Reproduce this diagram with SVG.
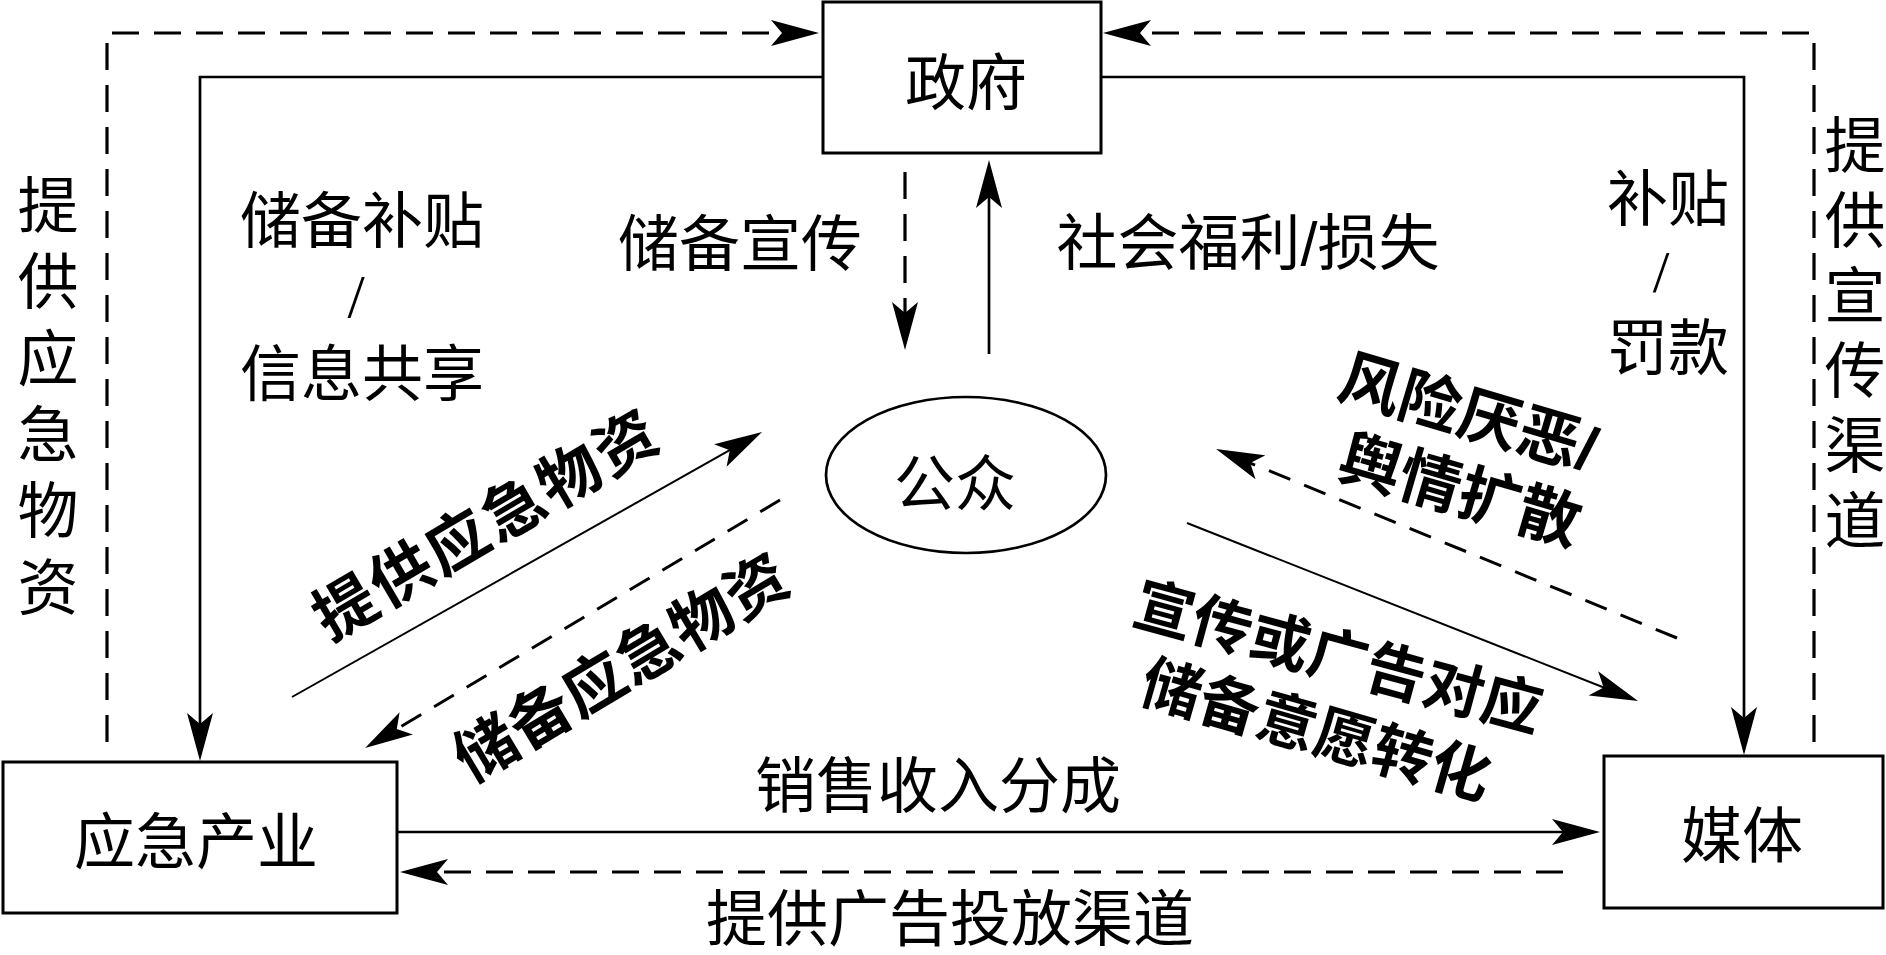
<svg xmlns="http://www.w3.org/2000/svg" width="1886" height="955" viewBox="0 0 1886 955">
<style>
.box{fill:#fff;stroke:#000;stroke-width:3}
.t{font-family:"Liberation Sans","Noto Sans CJK SC",sans-serif;font-size:61px;fill:#000;text-anchor:middle;dominant-baseline:central}
.b{font-weight:700;font-size:62px}
.sl{font-family:"Liberation Serif","Noto Sans CJK SC",serif;font-size:62px}
.s{fill:none;stroke:#000;stroke-width:2.7}
.sd{fill:none;stroke:#000;stroke-width:2}
.d{fill:none;stroke:#000;stroke-width:3.2;stroke-dasharray:27 15}
.dd{fill:none;stroke:#000;stroke-width:3;stroke-dasharray:23 15}
</style>
<defs>
<marker id="ah" viewBox="0 0 48 26" refX="18" refY="13" markerWidth="48" markerHeight="26" markerUnits="userSpaceOnUse" orient="auto">
<path d="M48,13 L0,0 L11,13 L0,26 Z" fill="#000"/>
</marker>
</defs>
<rect width="1886" height="955" fill="#fff"/>
<g id="connectors">
<path class="d" d="M107,742 V33 H789" marker-end="url(#ah)"/>
<path class="d" d="M1814,742 V33 H1133" marker-end="url(#ah)"/>
<path class="s" d="M823,77 H200 V731" marker-end="url(#ah)"/>
<path class="s" d="M1101,77 H1744 V725" marker-end="url(#ah)"/>
<path class="d" d="M905,172 V320" marker-end="url(#ah)"/>
<path class="s" d="M989,354 V190" marker-end="url(#ah)"/>
<path class="sd" d="M292,697 L735.9,446.7" marker-end="url(#ah)"/>
<path class="dd" d="M780,500 L390.8,732.6" marker-end="url(#ah)"/>
<path class="dd" d="M1677,638 L1243.8,460.4" marker-end="url(#ah)"/>
<path class="sd" d="M1187,523 L1610.1,690" marker-end="url(#ah)"/>
<path class="s" d="M397,832 H1570" marker-end="url(#ah)"/>
<path class="d" d="M1563,872 H430" marker-end="url(#ah)"/>
</g>
<g id="gov">
<rect class="box" x="823" y="2" width="278" height="151"/>
<text class="t" x="966" y="84">政府</text>
</g>
<g id="public">
<ellipse cx="966" cy="475" rx="140" ry="78" fill="#fff" stroke="#000" stroke-width="2.7"/>
<text class="t" x="955" y="485">公众</text>
</g>
<g id="industry">
<rect class="box" x="3" y="762" width="394" height="151"/>
<text class="t" x="196" y="843">应急产业</text>
</g>
<g id="media">
<rect class="box" x="1604" y="756" width="279" height="152"/>
<text class="t" x="1742" y="837">媒体</text>
</g>
<g id="labels">
<text class="t" x="362" y="222">储备补贴</text>
<text class="t sl" x="356" y="296">/</text>
<text class="t" x="362" y="375">信息共享</text>
<text class="t" x="740" y="245">储备宣传</text>
<text class="t" x="1248" y="244">社会福利/损失</text>
<text class="t" x="1668" y="200">补贴</text>
<text class="t sl" x="1661" y="272" style="font-size:60px">/</text>
<text class="t" x="1668" y="349">罚款</text>
<text class="t" x="938" y="787">销售收入分成</text>
<text class="t" x="950" y="920">提供广告投放渠道</text>
<text class="t" x="48" y="207">提</text>
<text class="t" x="48" y="283">供</text>
<text class="t" x="48" y="360">应</text>
<text class="t" x="48" y="436">急</text>
<text class="t" x="48" y="512">物</text>
<text class="t" x="48" y="589">资</text>
<text class="t" x="1855" y="147">提</text>
<text class="t" x="1855" y="222">供</text>
<text class="t" x="1855" y="297">宣</text>
<text class="t" x="1855" y="372">传</text>
<text class="t" x="1855" y="447">渠</text>
<text class="t" x="1855" y="522">道</text>
<text class="t b" transform="translate(487,525) rotate(-30.4)" style="letter-spacing:3px">提供应急物资</text>
<text class="t b" transform="translate(622,668) rotate(-31)" style="letter-spacing:1px">储备应急物资</text>
<text class="t b" transform="translate(1341,376) rotate(16.5)" style="text-anchor:start">风险厌恶/</text>
<text class="t b" transform="translate(1341,456) rotate(16.3)" style="text-anchor:start">舆情扩散</text>
<text class="t b" transform="translate(1338,658) rotate(15.2)" style="font-size:60px">宣传或广告对应</text>
<text class="t b" transform="translate(1316,731) rotate(16)" style="font-size:60px">储备意愿转化</text>
</g>
</svg>
